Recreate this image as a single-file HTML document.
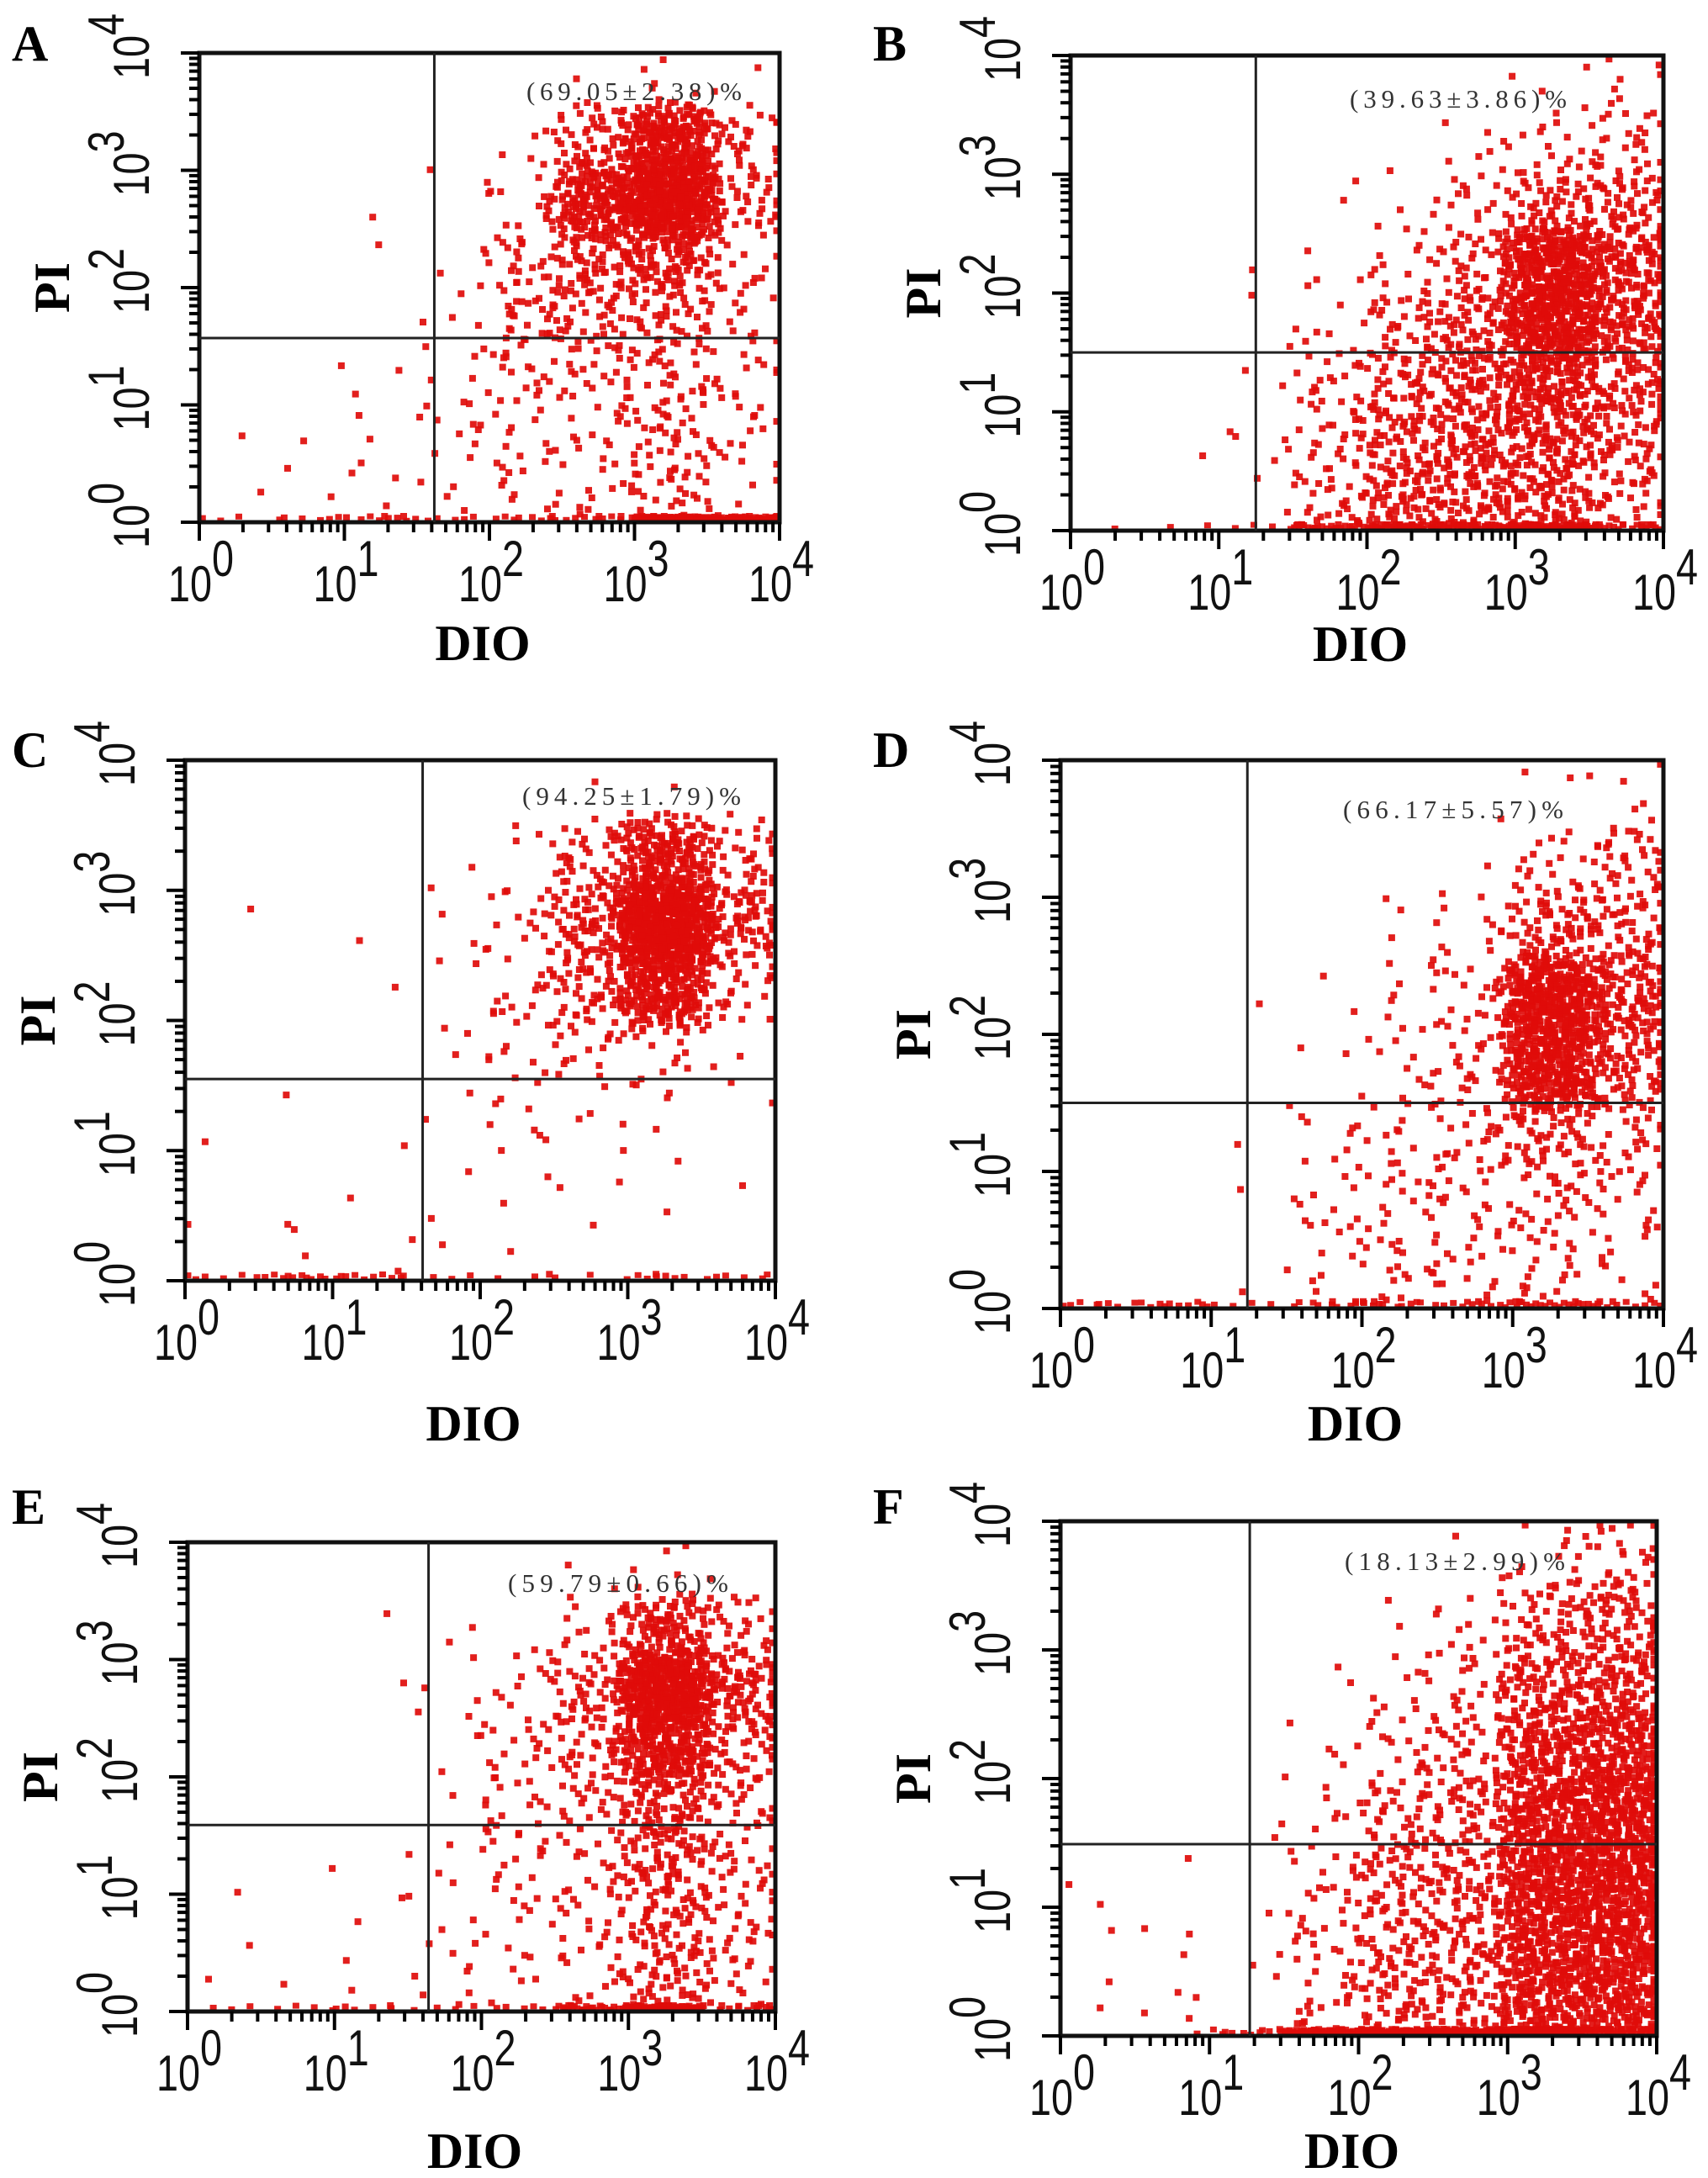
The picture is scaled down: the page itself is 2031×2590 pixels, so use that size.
<!DOCTYPE html>
<html><head><meta charset="utf-8">
<style>
html,body{margin:0;padding:0;background:#fff;}
svg{display:block;}
.tick{font-family:"Liberation Sans",Arial,sans-serif;font-size:60px;fill:#111;}
.ttl{font-family:"Liberation Serif",serif;font-weight:bold;font-size:60px;fill:#000;}
.plab{font-family:"Liberation Serif",serif;font-weight:bold;font-size:60px;fill:#000;}
.ann{font-family:"Liberation Serif","Noto Serif CJK SC",serif;font-size:31px;fill:#333;}
</style></head>
<body>
<svg id="fig" width="2031" height="2590" viewBox="0 0 2031 2590" xmlns="http://www.w3.org/2000/svg"></svg>
<script>
// Decade tick values shared by both axes (log10 exponents)
const tickExps = [0, 1, 2, 3, 4];
// Panel letters
const panelLetters = ["A","B","C","D","E","F"];
// Annotation texts (upper-right quadrant percentage)
const annotations = ["(69.05±2.38)%","(39.63±3.86)%","(94.25±1.79)%","(66.17±5.57)%","(59.79±0.66)%","(18.13±2.99)%"];
// Gate positions (log10 DIO, log10 PI)
const gateX = [1.62, 1.25, 1.61, 1.24, 1.64, 1.27];
const gateY = [1.57, 1.50, 1.55, 1.50, 1.59, 1.49];
// Event count grids: rows top (PI 10^3.5-4) to bottom (10^0-0.5), columns DIO half-decades 10^0..10^4
const gridA = [
 [0,0,0,0,0,2,6,3],[0,0,0,0,4,60,260,30],[0,0,1,2,12,200,500,40],[0,0,1,2,25,80,110,15],
 [0,0,0,3,35,40,40,15],[0,1,2,6,20,20,30,15],[1,1,4,8,12,15,35,12],[1,2,4,6,10,14,30,8]];
const gridB = [
 [0,0,0,0,0,0,4,8],[0,0,0,0,1,6,15,25],[0,0,0,1,4,20,60,60],[0,0,1,3,12,40,300,120],
 [0,0,1,8,35,70,300,110],[0,0,2,20,55,90,150,70],[0,1,3,25,70,90,110,50],[0,0,2,30,80,80,80,35]];
const gridC = [
 [0,0,0,0,0,1,2,0],[0,0,0,0,5,40,200,40],[1,0,1,2,12,90,600,90],[0,0,0,3,15,60,260,20],
 [0,0,0,3,10,18,15,3],[0,1,1,2,6,4,3,1],[1,1,1,1,3,2,2,1],[1,2,1,3,2,1,1,0]];
const gridD = [
 [0,0,0,0,0,0,2,6],[0,0,0,0,0,2,20,40],[0,0,0,0,5,10,80,60],[0,0,1,2,8,20,380,120],
 [0,0,0,2,10,25,300,80],[0,0,1,8,15,25,60,30],[0,0,1,10,20,18,30,15],[0,0,1,10,20,15,20,10]];
const gridE = [
 [0,0,0,0,0,2,4,2],[0,0,1,1,3,15,120,30],[0,0,1,2,12,45,450,90],[0,0,0,2,18,40,220,50],
 [0,0,0,3,15,25,90,25],[1,0,1,5,12,18,70,25],[1,0,2,5,10,14,60,25],[1,1,3,5,8,12,55,20]];
const gridF = [
 [0,0,0,0,0,2,8,25],[0,0,0,0,2,8,50,70],[0,0,0,1,8,25,90,100],[0,0,0,3,20,35,150,170],
 [0,0,0,8,35,50,200,250],[1,1,0,15,50,60,220,250],[2,3,1,20,55,60,200,220],[2,3,2,20,55,55,180,180]];
const grids = [gridA, gridB, gridC, gridD, gridE, gridF];
// Events piled on the PI=10^0 baseline, per DIO half-decade
const baseA = [3,6,8,5,8,8,80,50];
const baseB = [1,2,4,20,30,30,50,15];
const baseC = [6,10,10,3,2,3,6,6];
const baseD = [8,10,4,8,10,10,15,10];
const baseE = [3,4,5,4,5,25,50,10];
const baseF = [0,1,10,50,70,70,90,30];
const baselines = [baseA, baseB, baseC, baseD, baseE, baseF];

// Layout (pixels)
const boxes = [
 {l:237,t:63,r:927,b:621, lx:14,ly:72, ax:626,ay:119, aw:256, dio:164},
 {l:1273,t:66,r:1978,b:631, lx:1038,ly:72, ax:1605,ay:128, aw:258, dio:155},
 {l:220,t:904,r:922,b:1523, lx:14,ly:912, ax:621,ay:957, aw:260, dio:190},
 {l:1261,t:904,r:1978,b:1556, lx:1038,ly:912, ax:1597,ay:973, aw:262, dio:157},
 {l:223,t:1834,r:922,b:2392, lx:14,ly:1812, ax:604,ay:1893, aw:262, dio:186},
 {l:1261,t:1809,r:1970,b:2421, lx:1038,ly:1812, ax:1599,ay:1867, aw:262, dio:157}
];
const NS = "http://www.w3.org/2000/svg";
const svg = document.getElementById("fig");
function mk(tag, attrs, parent){ const e=document.createElementNS(NS,tag); for(const k in attrs) e.setAttribute(k,attrs[k]); (parent||svg).appendChild(e); return e; }
function halton(i,b){ let f=1,r=0; while(i>0){ f/=b; r+=f*(i%b); i=Math.floor(i/b);} return r; }
function clamp(v,a,b){ return Math.max(a,Math.min(b,v)); }

boxes.forEach((B,p)=>{
  const g = mk("g",{});
  
  
  const xs = v => B.l + (v/4)*(B.r-B.l);
  const ys = v => B.b - (v/4)*(B.b-B.t);
  const pts = mk("g",{fill:"#df0c0a","fill-opacity":"0.92"},g);
  
  
  let idx = 1 + p*977;
  grids[p].forEach((row,ri)=>{
    const y0 = (7-ri)*0.5;
    row.forEach((n,ci)=>{
      const x0 = ci*0.5;
      for(let k=0;k<n;k++){
        let vx = x0 + halton(idx,2)*0.5 + (halton(idx,5)-0.5)*0.25;
        let vy = y0 + halton(idx,3)*0.5 + (halton(idx,7)-0.5)*0.25; idx++;
        vx = clamp(vx,0.02,3.98); vy = clamp(vy,0.05,3.97);
        mk("rect",{x:(xs(vx)-4).toFixed(1),y:(ys(vy)-4).toFixed(1),width:8,height:8},pts);
      }
    });
  });
  baselines[p].forEach((n,ci)=>{
    for(let k=0;k<n;k++){
      const vx = clamp(ci*0.5 + halton(idx,2)*0.5,0.02,3.98), vy = halton(idx,3)*0.04; idx++;
      mk("rect",{x:(xs(vx)-4).toFixed(1),y:(ys(vy)-5).toFixed(1),width:8,height:7},pts);
    }
  });
  const fr = mk("rect",{x:B.l,y:B.t,width:B.r-B.l,height:B.b-B.t,fill:"none",stroke:"#111","stroke-width":5},g);
  
  
  const gv = mk("line",{x1:xs(gateX[p]),x2:xs(gateX[p]),y1:B.t,y2:B.b,stroke:"#222","stroke-width":3},g);
  
  
  const gh = mk("line",{x1:B.l,x2:B.r,y1:ys(gateY[p]),y2:ys(gateY[p]),stroke:"#222","stroke-width":3},g);
  
  
  const tk = mk("g",{stroke:"#000","stroke-width":4},g);
  
  
  for(let d=0; d<4; d++){
    for(let m=1;m<10;m++){
      const v = d + Math.log10(m);
      const len = m===1?22:12;
      mk("line",{x1:xs(v),x2:xs(v),y1:B.b,y2:B.b+len},tk);
      mk("line",{x1:B.l,x2:B.l-len,y1:ys(v),y2:ys(v)},tk);
    }
  }
  mk("line",{x1:xs(4),x2:xs(4),y1:B.b,y2:B.b+22},tk);
  mk("line",{x1:B.l,x2:B.l-22,y1:ys(4),y2:ys(4)},tk);
  tickExps.forEach(e=>{
    const tx = mk("text",{x:0,y:0,class:"tick",transform:"translate("+(xs(e)-37)+","+(B.b+94)+") scale(0.78,1)"},g);
    
    
    tx.innerHTML = '10<tspan dy="-30">'+e+'</tspan>';
    const ty = mk("text",{x:0,y:0,class:"tick","text-anchor":"middle",transform:"translate("+(B.l-60)+","+(ys(e)-8)+") rotate(-90) scale(0.78,1)"},g);
    
    
    ty.innerHTML = '10<tspan dy="-30">'+e+'</tspan>';
  });
  const xt = mk("text",{x:(B.l+B.r)/2-8,y:B.b+B.dio,"text-anchor":"middle",class:"ttl"},g);
  
  
  xt.textContent = "DIO";
  const yt = mk("text",{x:0,y:0,"text-anchor":"middle",class:"ttl",transform:"translate("+(B.l-155)+","+((B.t+B.b)/2)+") rotate(-90)"},g);
  
  
  yt.textContent = "PI";
  const pl = mk("text",{x:B.lx,y:B.ly,class:"plab"},g);
  
  
  pl.textContent = panelLetters[p];
  const an = mk("text",{x:B.ax,y:B.ay,class:"ann",textLength:B.aw,lengthAdjust:"spacing"},g);
  
  
  an.textContent = annotations[p];
});
</script>
</body></html>
